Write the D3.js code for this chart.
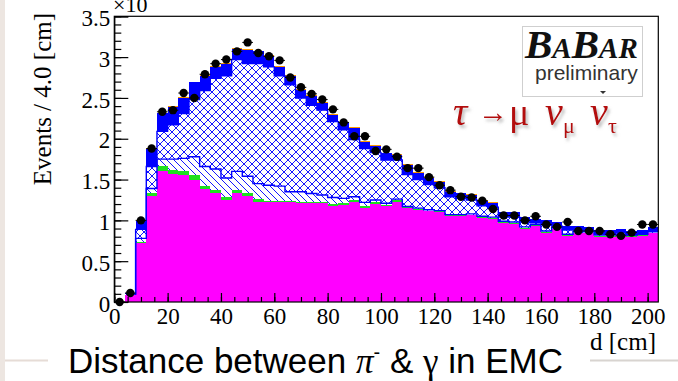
<!DOCTYPE html>
<html>
<head>
<meta charset="utf-8">
<script src="https://cdn.jsdelivr.net/npm/d3@7"></script>
<style>
  html, body { margin: 0; padding: 0; background: #fff; }
  svg { display: block; }
</style>
</head>
<body>
<svg id="chart" width="678" height="381"></svg>
<script>
// bins of 4 cm, lower edges
const binLow = [0, 4, 8, 12, 16, 20, 24, 28, 32, 36, 40, 44, 48, 52, 56, 60, 64, 68, 72, 76,
  80, 84, 88, 92, 96, 100, 104, 108, 112, 116, 120, 124, 128, 132, 136, 140, 144, 148, 152, 156,
  160, 164, 168, 172, 176, 180, 184, 188, 192, 196, 200];
const binWidth = 4;

// data points (x10^3 events)
const dataCounts = [0.00, 0.11, 1.00, 1.88, 2.33, 2.35, 2.56, 2.50, 2.79, 2.92,
  2.97, 3.07, 3.18, 3.05, 3.01, 2.96, 2.75, 2.63, 2.55, 2.48,
  2.36, 2.20, 2.03, 2.03, 1.85, 1.87, 1.78, 1.64, 1.64, 1.53,
  1.43, 1.37, 1.29, 1.28, 1.24, 1.14, 1.06, 1.06, 1.00, 1.05,
  0.95, 0.92, 0.98, 0.87, 0.87, 0.87, 0.83, 0.81, 0.85, 0.95, 0.95];

// stacked MC components, bottom to top
const magenta = [0.00, 0.08, 0.72, 1.30, 1.61, 1.57, 1.55, 1.50, 1.38, 1.33,
  1.25, 1.33, 1.30, 1.23, 1.22, 1.22, 1.22, 1.21, 1.21, 1.21,
  1.18, 1.19, 1.23, 1.15, 1.20, 1.17, 1.23, 1.15, 1.13, 1.11,
  1.10, 1.05, 1.05, 1.06, 1.03, 1.02, 0.97, 0.96, 0.90, 0.93,
  0.85, 0.89, 0.81, 0.84, 0.84, 0.80, 0.80, 0.81, 0.80, 0.81, 0.84];
const green = [0.00, 0.005, 0.02, 0.03, 0.05, 0.05, 0.05, 0.05, 0.04, 0.04,
  0.04, 0.04, 0.04, 0.03, 0.02, 0.02, 0.02, 0.02, 0.02, 0.02,
  0.02, 0.02, 0.02, 0.02, 0.02, 0.02, 0.02, 0.01, 0.01, 0.01,
  0.01, 0.01, 0.01, 0.01, 0.01, 0.01, 0.01, 0.01, 0.01, 0.01,
  0.01, 0.01, 0.01, 0.01, 0.01, 0.01, 0.01, 0.01, 0.01, 0.01, 0.01];
const diagHatch = [0.00, 0.00, 0.04, 0.06, 0.09, 0.13, 0.16, 0.23, 0.24, 0.26,
  0.23, 0.23, 0.20, 0.19, 0.19, 0.18, 0.11, 0.12, 0.10, 0.08,
  0.08, 0.06, 0.04, 0.05, 0.03, 0.02, 0.01, 0.01, 0.01, 0.01,
  0.01, 0.01, 0.01, 0.01, 0.01, 0.01, 0.01, 0.01, 0.01, 0.01,
  0.01, 0.01, 0.01, 0.01, 0.01, 0.01, 0.01, 0.01, 0.01, 0.01, 0.01];
const crossHatch = [0.00, 0.01, 0.11, 0.27, 0.34, 0.42, 0.55, 0.70, 0.93, 1.11,
  1.25, 1.37, 1.38, 1.47, 1.45, 1.35, 1.31, 1.15, 1.08, 1.04,
  0.93, 0.84, 0.70, 0.66, 0.58, 0.53, 0.48, 0.39, 0.35, 0.31,
  0.28, 0.22, 0.20, 0.17, 0.13, 0.12, 0.05, 0.06, 0.06, 0.02,
  0.08, 0.02, 0.05, 0.02, 0.01, 0.01, 0.01, 0.02, 0.00, 0.00, 0.01];
const blueSolid = [0.00, 0.02, 0.10, 0.22, 0.22, 0.22, 0.19, 0.21, 0.18, 0.14,
  0.15, 0.13, 0.17, 0.15, 0.13, 0.11, 0.11, 0.10, 0.11, 0.09,
  0.08, 0.09, 0.14, 0.08, 0.08, 0.08, 0.06, 0.12, 0.08, 0.08,
  0.07, 0.06, 0.06, 0.06, 0.06, 0.05, 0.06, 0.06, 0.06, 0.05,
  0.05, 0.05, 0.05, 0.05, 0.05, 0.05, 0.05, 0.05, 0.05, 0.05, 0.05];
const orange = [0.00, 0.00, 0.00, 0.01, 0.01, 0.01, 0.01, 0.01, 0.01, 0.01,
  0.01, 0.01, 0.01, 0.01, 0.01, 0.01, 0.01, 0.01, 0.01, 0.01,
  0.01, 0.01, 0.01, 0.01, 0.01, 0.01, 0.01, 0.01, 0.01, 0.01,
  0.01, 0.01, 0.01, 0.01, 0.01, 0.01, 0.00, 0.00, 0.00, 0.00,
  0.00, 0.00, 0.00, 0.00, 0.00, 0.00, 0.00, 0.00, 0.00, 0.00, 0.00];

const xTicks = [0, 20, 40, 60, 80, 100, 120, 140, 160, 180, 200];
const yTicks = [0, 0.5, 1, 1.5, 2, 2.5, 3, 3.5];

const keys = ['magenta', 'green', 'diag', 'cross', 'blue', 'orange'];
const rows = binLow.map((lo, i) => ({
  lo: lo, data: dataCounts[i],
  magenta: magenta[i], green: green[i], diag: diagHatch[i],
  cross: crossHatch[i], blue: blueSolid[i], orange: orange[i]
}));

const svg = d3.select('#chart');
const serif = '"Liberation Serif", "DejaVu Serif", serif';
const sans = '"Liberation Sans", Arial, sans-serif';

const x = d3.scaleLinear().domain([0, 204]).range([114.3, 658.3]);
const y = d3.scaleLinear().domain([0, 3.5]).range([302, 16.3]);

// slide decorations
svg.append('rect').attr('x', 0).attr('y', 0).attr('width', 5).attr('height', 381).attr('fill', '#ede6e1');
svg.append('line').attr('x1', 5).attr('x2', 48).attr('y1', 360.5).attr('y2', 360.5)
  .attr('stroke', '#e6dcd6').attr('stroke-width', 2);
svg.append('line').attr('x1', 590).attr('x2', 678).attr('y1', 360.5).attr('y2', 360.5)
  .attr('stroke', '#d8d4d0').attr('stroke-width', 2);

const defs = svg.append('defs');
const cross = defs.append('pattern').attr('id', 'cross')
  .attr('patternUnits', 'userSpaceOnUse').attr('width', 8).attr('height', 8);
cross.append('rect').attr('width', 8).attr('height', 8).attr('fill', '#fff');
cross.append('path').attr('d', 'M0,0L8,8M8,0L0,8').attr('stroke', '#1515ff').attr('stroke-width', 1);

const diag = defs.append('pattern').attr('id', 'diag')
  .attr('patternUnits', 'userSpaceOnUse').attr('width', 7).attr('height', 7);
diag.append('rect').attr('width', 7).attr('height', 7).attr('fill', '#fff');
diag.append('path').attr('d', 'M0,0L7,7M-1,6L1,8M6,-1L8,1').attr('stroke', '#1515ff').attr('stroke-width', 1);

const shadow = defs.append('filter').attr('id', 'shadow')
  .attr('x', '-20%').attr('y', '-20%').attr('width', '150%').attr('height', '160%');
shadow.append('feDropShadow').attr('dx', 2).attr('dy', 3).attr('stdDeviation', 1.8)
  .attr('flood-color', '#888').attr('flood-opacity', 0.55);

const fills = {
  magenta: '#ff00ff', green: '#1fe01f', diag: 'url(#diag)',
  cross: 'url(#cross)', blue: '#0000ff', orange: '#ff9900'
};

const stacked = d3.stack().keys(keys)(rows);

const plot = svg.append('g');
stacked.forEach(layer => {
  plot.append('g')
    .selectAll('rect')
    .data(layer)
    .join('rect')
    .attr('x', d => x(d.data.lo))
    .attr('width', d => x(d.data.lo + binWidth) - x(d.data.lo))
    .attr('y', d => y(d[1]))
    .attr('height', d => Math.max(0, y(d[0]) - y(d[1])))
    .attr('fill', fills[layer.key])
    .attr('shape-rendering', 'crispEdges');
});

// blue outlines on the hatched components
const stepPts = (layer) => {
  const pts = [];
  layer.forEach(d => {
    pts.push([d.data.lo, d[1]]);
    pts.push([d.data.lo + binWidth, d[1]]);
  });
  return pts;
};
const line = d3.line().x(d => x(d[0])).y(d => y(d[1]));
[stacked[2], stacked[3]].forEach(layer => {
  plot.append('path')
    .attr('d', line(stepPts(layer).filter(p => p[0] >= 8)))
    .attr('fill', 'none')
    .attr('stroke', '#0000ff')
    .attr('stroke-width', 1.4);
});

// data points
const pts = svg.append('g');
pts.selectAll('line')
  .data(rows)
  .join('line')
  .attr('x1', d => x(d.lo))
  .attr('x2', d => x(d.lo + binWidth))
  .attr('y1', d => y(d.data))
  .attr('y2', d => y(d.data))
  .attr('stroke', '#000')
  .attr('stroke-width', 1);
pts.selectAll('circle')
  .data(rows)
  .join('circle')
  .attr('cx', d => x(d.lo + binWidth / 2))
  .attr('cy', d => y(d.data))
  .attr('r', 4.2)
  .attr('fill', '#000');

// frame
svg.append('rect')
  .attr('x', x(0)).attr('y', y(3.5))
  .attr('width', x(204) - x(0)).attr('height', y(0) - y(3.5))
  .attr('fill', 'none').attr('stroke', '#000').attr('stroke-width', 1.2);

// y axis
const yAxis = svg.append('g').attr('transform', `translate(${x(0)},0)`);
yAxis.call(d3.axisLeft(y).tickValues(d3.range(0, 3.51, 0.1)).tickSize(-7).tickFormat(''))
  .call(g => g.select('.domain').remove());
const yMajor = svg.append('g').attr('transform', `translate(${x(0)},0)`);
yMajor.call(d3.axisLeft(y).tickValues(yTicks).tickSize(-14).tickPadding(4).tickFormat(d3.format('')))
  .call(g => g.select('.domain').attr('stroke-width', 1.2));
yMajor.selectAll('text').attr('font-family', serif).attr('font-size', 23).attr('fill', '#000').attr('dy', '0.4em');
svg.selectAll('.tick line').attr('stroke-width', 1.2);

// x axis
const xAxis = svg.append('g').attr('transform', `translate(0,${y(0)})`);
xAxis.call(d3.axisBottom(x).tickValues(d3.range(0, 204, 5)).tickSize(-5).tickFormat(''))
  .call(g => g.select('.domain').remove());
const xMajor = svg.append('g').attr('transform', `translate(0,${y(0)})`);
xMajor.call(d3.axisBottom(x).tickValues(xTicks).tickSize(-9).tickPadding(6).tickFormat(d3.format('')))
  .call(g => g.select('.domain').remove());
xMajor.selectAll('text').attr('font-family', serif).attr('font-size', 23).attr('fill', '#000');
svg.selectAll('.tick line').attr('stroke-width', 1.2);

// exponent label, cut at the top as in the source
svg.append('text').attr('x', 113).attr('y', 12)
  .attr('font-family', serif).attr('font-size', 22)
  .text('\u00d710');

// axis titles
svg.append('text')
  .attr('transform', 'translate(51,13) rotate(-90)')
  .attr('text-anchor', 'end')
  .attr('font-family', serif).attr('font-size', 25)
  .text('Events / 4.0 [cm]');
svg.append('text')
  .attr('x', 656).attr('y', 350)
  .attr('text-anchor', 'end')
  .attr('font-family', serif).attr('font-size', 25)
  .text('d [cm]');

// BaBar logo
svg.append('rect').attr('x', 522.5).attr('y', 26.5).attr('width', 120).attr('height', 70)
  .attr('fill', '#fff').attr('stroke', '#cfcfcf').attr('stroke-width', 1);
const logo = svg.append('text').attr('x', 525).attr('y', 58)
  .attr('font-family', serif).attr('font-weight', 'bold').attr('font-style', 'italic').attr('fill', '#111');
logo.append('tspan').attr('font-size', 41).text('B');
logo.append('tspan').attr('font-size', 29).text('A');
logo.append('tspan').attr('font-size', 41).text('B');
logo.append('tspan').attr('font-size', 29).text('AR');
svg.append('text').attr('x', 535).attr('y', 80)
  .attr('font-family', sans).attr('font-size', 21).attr('fill', '#333')
  .text('preliminary');

// decay label
const decay = svg.append('g').attr('filter', 'url(#shadow)')
  .attr('fill', '#b30f0f').attr('font-family', serif);
decay.append('text').attr('x', 453).attr('y', 125).attr('font-size', 40).attr('font-style', 'italic').text('\u03c4');
decay.append('text').attr('x', 478).attr('y', 122).attr('font-size', 30).text('\u2192');
decay.append('text').attr('x', 509).attr('y', 125).attr('font-size', 38).text('\u03bc');
decay.append('text').attr('x', 545).attr('y', 125).attr('font-size', 40).attr('font-style', 'italic').text('\u03bd');
decay.append('text').attr('x', 563).attr('y', 133).attr('font-size', 22).text('\u03bc');
decay.append('text').attr('x', 590).attr('y', 125).attr('font-size', 40).attr('font-style', 'italic').text('\u03bd');
decay.append('text').attr('x', 608).attr('y', 133).attr('font-size', 22).text('\u03c4');
svg.append('path').attr('d', 'M600,91L606,91L603,94Z').attr('fill', '#333');

// caption
const cap = svg.append('text').attr('x', 68).attr('y', 373)
  .attr('font-family', sans).attr('font-size', 35).attr('fill', '#000');
cap.append('tspan').text('Distance between ');
cap.append('tspan').attr('font-family', serif).attr('font-style', 'italic').text('\u03c0');
cap.append('tspan').attr('font-size', 20).attr('dy', -14).text('-');
cap.append('tspan').attr('dy', 14).text('  & ');
cap.append('tspan').attr('font-family', serif).text('\u03b3');
cap.append('tspan').text(' in EMC');
</script>
</body>
</html>
